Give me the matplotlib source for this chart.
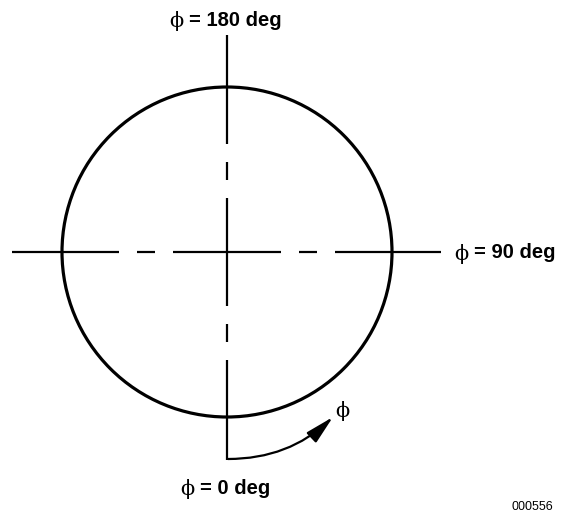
import numpy as np
import matplotlib
matplotlib.use("Agg")
import matplotlib.pyplot as plt
from matplotlib.patches import Circle, FancyArrowPatch

# geometry in pixel units (origin top-left)
center = (227, 252)
radius = 165

# center-line pattern: solid through the middle, gap, short dash, gap, solid to the end
center_half = 54
gap = 18
dash = 18
h_ends = [-215, 214]   # left / right extent of horizontal line
v_ends = [-217, 208]   # top / bottom extent of vertical line

arrow_start = (228, 459)
arrow_end = (333, 417)

labels = ["\u03d5", "= 180 deg", "= 90 deg", "= 0 deg"]

fig = plt.figure(figsize=(5.61, 5.16), dpi=100)
ax = fig.add_axes([0, 0, 1, 1])
ax.set_xlim(0, 561)
ax.set_ylim(516, 0)
ax.set_aspect("equal")
ax.axis("off")


def segments(end):
    # offsets (from center) along one half of a center line
    s = np.sign(end)
    a = center_half
    b = a + gap
    c = b + dash
    d = c + gap
    return [(0, s * a), (s * b, s * c), (s * d, end)]


for end in h_ends:
    for p, q in segments(end):
        ax.plot([center[0] + p, center[0] + q], [center[1], center[1]],
                color="black", lw=1.6, solid_capstyle="butt")

for end in v_ends:
    for p, q in segments(end):
        ax.plot([center[0], center[0]], [center[1] + p, center[1] + q],
                color="black", lw=1.6, solid_capstyle="butt")

ax.add_patch(Circle(center, radius, fill=False, edgecolor="black", lw=2.3))

arr = FancyArrowPatch(arrow_start, arrow_end,
                      connectionstyle="arc3,rad=0.2",
                      arrowstyle="-|>,head_length=1.1,head_width=0.26",
                      mutation_scale=16, color="black", lw=1.6,
                      shrinkA=0, shrinkB=0)
ax.add_patch(arr)

phi_font = dict(family=["DejaVu Serif", "DejaVu Sans"], fontsize=15, color="black")
bold_font = dict(family=["Liberation Sans", "DejaVu Sans"], fontsize=14.5,
                 fontweight="bold", color="black")

# phi = 180 deg
ax.text(176, 21, labels[0], ha="center", va="center", **phi_font)
ax.text(189, 20, labels[1], ha="left", va="center", **bold_font)
# phi = 90 deg
ax.text(461, 254, labels[0], ha="center", va="center", **phi_font)
ax.text(474, 253, labels[2], ha="left", va="center", **bold_font)
# phi = 0 deg
ax.text(187, 489, labels[0], ha="center", va="center", **phi_font)
ax.text(200, 488, labels[3], ha="left", va="center", **bold_font)
# phi near arrow
ax.text(342, 411, labels[0], ha="center", va="center", **phi_font)

ax.text(553, 507, "000556", ha="right", va="center",
        family="Liberation Sans", fontsize=9, color="black")

fig.savefig("out.png", dpi=100)
